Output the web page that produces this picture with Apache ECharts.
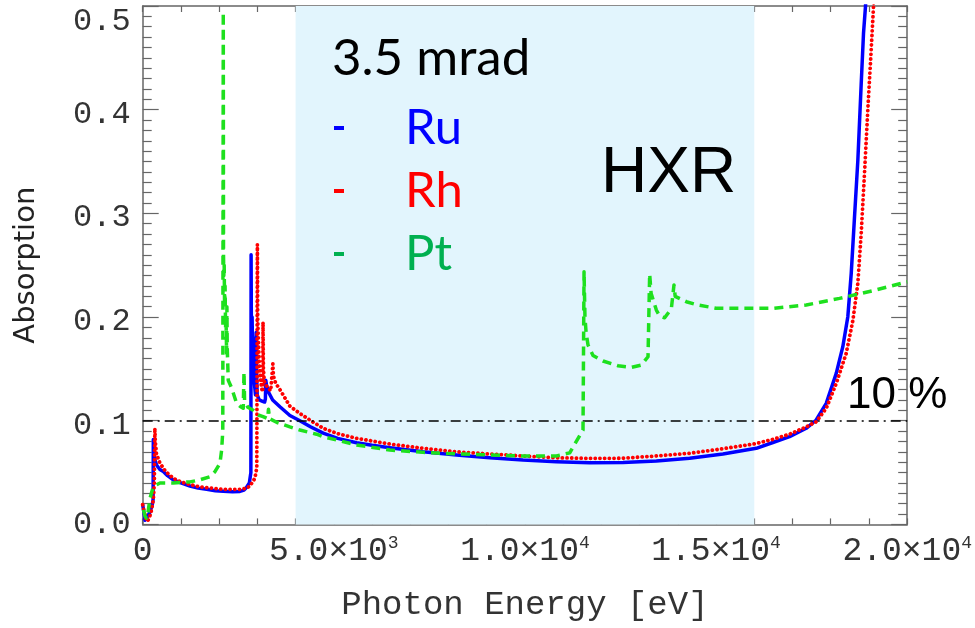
<!DOCTYPE html>
<html>
<head>
<meta charset="utf-8">
<script src="https://cdn.jsdelivr.net/npm/echarts@6/dist/echarts.min.js"></script>
<style>
html,body{margin:0;padding:0;background:#fff;}
#chart{width:975px;height:628px;}
</style>
</head>
<body>
<div id="chart"></div>
<script>
// ---- data: [photon energy (eV), absorption] ----
const ruData = [
 [0,0.019],[30,0.012],[60,0.004],[100,0.005],[150,0.009],[200,0.013],[250,0.019],[272,0.024],
 [278,0.082],[290,0.07],[320,0.062],[366,0.057],[450,0.053],[540,0.051],[650,0.047],[800,0.043],
 [1000,0.040],[1237,0.037],[1450,0.035],[1673,0.0338],[1900,0.0325],[2108,0.032],[2350,0.0315],
 [2544,0.0318],[2650,0.033],[2719,0.0358],[2790,0.04],[2830,0.05],[2836,0.26],[2842,0.2],[2852,0.19],
 [2862,0.2],[2875,0.165],[2890,0.18],[2905,0.15],[2925,0.135],[2950,0.125],[2962,0.125],[2968,0.185],
 [2976,0.15],[2995,0.125],[3050,0.12],[3120,0.119],[3190,0.118],[3210,0.121],[3220,0.139],[3240,0.134],
 [3300,0.127],[3400,0.12],[3590,0.1135],[3851,0.105],[4112,0.1],[4400,0.094],[4722,0.088],[5100,0.083],
 [5594,0.0788],[6000,0.0763],[6465,0.074],[7336,0.070],[8209,0.067],[9080,0.0643],[9950,0.062],
 [10823,0.0605],[11694,0.0595],[12565,0.0598],[13438,0.0612],[14309,0.0637],[15180,0.0679],
 [16052,0.0734],[16486,0.079],[16923,0.0846],[17359,0.0927],[17620,0.1007],[17882,0.1168],
 [18144,0.1457],[18316,0.1714],[18447,0.2003],[18536,0.242],[18622,0.2967],[18709,0.351],
 [18797,0.425],[18857,0.4735],[18910,0.5],[18960,0.54]
];
const rhData = [
 [0,0.019],[40,0.012],[80,0.006],[122,0.003],[170,0.006],[220,0.012],[277,0.0235],[305,0.04],
 [318,0.0927],[330,0.08],[360,0.068],[452,0.059],[600,0.051],[800,0.0445],[1000,0.041],[1237,0.0385],
 [1450,0.0365],[1673,0.0354],[2108,0.0338],[2544,0.0338],[2720,0.035],[2805,0.037],[2936,0.0445],
 [2985,0.055],[3000,0.27],[3008,0.2],[3020,0.185],[3035,0.17],[3050,0.155],[3080,0.14],[3120,0.13],
 [3140,0.128],[3148,0.195],[3158,0.15],[3180,0.138],[3250,0.133],[3350,0.129],[3395,0.13],
 [3405,0.155],[3420,0.143],[3480,0.136],[3590,0.13],[3851,0.114],[4112,0.107],[4400,0.1],
 [4722,0.0927],[5100,0.0875],[5594,0.083],[6465,0.0775],[7336,0.0734],[8209,0.070],[9080,0.0679],
 [9950,0.066],[10823,0.0643],[11694,0.0637],[12565,0.0638],[13438,0.066],[14309,0.0686],
 [15180,0.073],[16052,0.078],[16486,0.082],[16923,0.087],[17359,0.094],[17620,0.099],[17882,0.112],
 [18144,0.136],[18405,0.165],[18580,0.197],[18709,0.2325],[18797,0.2807],[18883,0.3386],
 [18970,0.40],[19058,0.4575],[19119,0.4996],[19170,0.54]
];
const ptData = [
 [20,0.014],[60,0.008],[100,0.006],[140,0.012],[190,0.025],[235,0.031],[277,0.036],[350,0.038],
 [452,0.040],[600,0.040],[800,0.040],[1000,0.0405],[1237,0.041],[1500,0.043],[1760,0.046],
 [1890,0.0508],[2021,0.059],[2065,0.0717],[2095,0.09],[2108,0.494],[2114,0.26],[2122,0.24],
 [2132,0.25],[2142,0.21],[2155,0.23],[2168,0.19],[2180,0.2],[2195,0.165],[2203,0.21],[2212,0.17],
 [2238,0.139],[2326,0.1317],[2457,0.1168],[2544,0.114],[2630,0.112],[2650,0.147],[2665,0.12],
 [2750,0.113],[2893,0.110],[3023,0.1055],[3150,0.104],[3270,0.102],[3290,0.111],[3320,0.102],
 [3503,0.0985],[3851,0.094],[4112,0.091],[4549,0.087],[4722,0.0846],[5594,0.0766],[6465,0.0717],
 [7336,0.0695],[8209,0.068],[9080,0.067],[9950,0.066],[10823,0.066],[11171,0.069],[11312,0.078],
 [11519,0.091],[11546,0.2437],[11570,0.2],[11600,0.185],[11650,0.173],[11781,0.163],[12042,0.1576],
 [12435,0.153],[12784,0.1515],[13046,0.1537],[13220,0.1617],[13263,0.2415],[13300,0.223],
 [13438,0.2067],[13525,0.201],[13655,0.1993],[13830,0.208],[13899,0.231],[13930,0.22],
 [14222,0.2148],[14526,0.2116],[15000,0.2085],[15616,0.2084],[16486,0.2084],[17359,0.2116],
 [18230,0.218],[19100,0.2254],[20000,0.234]
];
const seriesNames = ['Ru','Rh','Pt'];
const hxrRange = [4000, 16000];
const thresholdLevel = 0.1;
const xTicks = [0, 5000, 10000, 15000, 20000];
const xTickLabels = ['0', '5.0×10{s|3}', '1.0×10{s|4}', '1.5×10{s|4}', '2.0×10{s|4}'];
const yTickLabels = ['0.0','0.1','0.2','0.3','0.4','0.5'];

const mono = '"Liberation Mono", "DejaVu Sans Mono", monospace';
const axisColor = '#666';
const labelColor = '#333';

const chart = echarts.init(document.getElementById('chart'), null, {renderer:'canvas'});

function xAxisCfg(pos, showLabel) {
  return {
    type:'value', min:0, max:20000, interval:5000, position:pos,
    axisLine:{show:true, onZero:false, lineStyle:{color:axisColor, width:1.5}},
    axisTick:{show:true, inside:true, length:6, lineStyle:{color:axisColor, width:1.2}},
    minorTick:{show:true, splitNumber:5, length:6, lineStyle:{color:axisColor, width:1.2}},
    splitLine:{show:false},
    axisLabel: showLabel ? {
      show:true, margin:10, color:labelColor, fontFamily:mono, fontSize:33,
      formatter: v => { const i = xTicks.indexOf(v); return i >= 0 ? xTickLabels[i] : ''; },
      rich:{ s:{fontFamily:mono, fontSize:18, color:labelColor, verticalAlign:'top', padding:[0,0,8,0]} }
    } : {show:false},
    name: showLabel ? 'Photon Energy [eV]' : '',
    nameLocation:'middle', nameGap:64,
    nameTextStyle:{fontFamily:mono, fontSize:34, color:labelColor}
  };
}
function yAxisCfg(pos, showLabel) {
  return {
    type:'value', min:0, max:0.5, interval:0.1, position:pos,
    axisLine:{show:true, onZero:false, lineStyle:{color:axisColor, width:1.5}},
    axisTick:{show:true, inside:true, length:16, lineStyle:{color:axisColor, width:1.2}},
    minorTick:{show:true, splitNumber:10, length:9, lineStyle:{color:axisColor, width:1.2}},
    splitLine:{show:false},
    axisLabel: showLabel ? {
      show:true, margin:12, color:labelColor, fontFamily:mono, fontSize:32,
      formatter: v => {
        const i = Math.round(v*10); const s = yTickLabels[i];
        if (i === 5) return '{t|' + s + '}';
        if (i === 0) return '{z|' + s + '}';
        return '{n|' + s + '}';
      },
      rich:{
        t:{fontFamily:mono, fontSize:32, color:labelColor, padding:[32,0,0,0]},
        n:{fontFamily:mono, fontSize:32, color:labelColor, padding:[9,0,0,0]},
        z:{fontFamily:mono, fontSize:32, color:labelColor}
      }
    } : {show:false},
    name: showLabel ? 'Absorption' : '',
    nameLocation:'middle', nameGap:102, nameRotate:90,
    nameTextStyle:{fontFamily:'"DejaVu Sans", sans-serif', fontSize:29, color:'#222'}
  };
}

const option = {
  animation:false,
  backgroundColor:'#ffffff',
  grid:{left:142.7, right:67.3, top:6, bottom:103.6, containLabel:false},
  xAxis:[xAxisCfg('bottom', true), xAxisCfg('top', false)],
  yAxis:[yAxisCfg('left', true), yAxisCfg('right', false)],
  legend:{
    orient:'vertical', left:329, top:98, itemWidth:10, itemHeight:4, itemGap:13,
    icon:'rect', selectedMode:false, z:20,
    textStyle:{fontFamily:'Lato, "Open Sans", sans-serif', fontSize:49, padding:[0,0,0,56], lineHeight:50},
    data:[
      {name:'Ru', textStyle:{color:'#0000ff'}, itemStyle:{color:'#0000ff'}},
      {name:'Rh', textStyle:{color:'#ff0000'}, itemStyle:{color:'#ff0000'}},
      {name:'Pt', textStyle:{color:'#00b050'}, itemStyle:{color:'#00b050'}}
    ]
  },
  graphic:[
    {type:'text', z:100, left:332, top:33, style:{text:'3.5 mrad', font:'51px Lato, "Open Sans", sans-serif', fill:'#000'}},
    {type:'text', z:100, left:601, top:142, style:{text:'HXR', font:'64px "Liberation Sans", Arial, sans-serif', fill:'#000'}},
    {type:'text', z:100, left:847, top:374, style:{text:'10 %', font:'44px "Liberation Sans", Arial, sans-serif', fill:'#000'}}
  ],
  series:[
    {
      name:'HXR', type:'line', data:[], z:1, silent:true,
      markArea:{silent:true, itemStyle:{color:'#e2f5fd'}, data:[[{xAxis:hxrRange[0]},{xAxis:hxrRange[1]}]]},
      markLine:{silent:true, symbol:['none','none'], label:{show:false},
        lineStyle:{color:'#000', width:1.5, type:[10,5,2,5]},
        data:[{yAxis:thresholdLevel}]}
    },
    {name:seriesNames[0], type:'line', data:ruData, showSymbol:false, z:3, clip:true,
      lineStyle:{color:'#0000ff', width:3.5, join:'round'}, itemStyle:{color:'#0000ff'}},
    {name:seriesNames[1], type:'line', data:rhData, showSymbol:false, z:4, clip:true,
      lineStyle:{color:'#ff0000', width:3.8, type:[0.1,4.6], cap:'round', join:'round'}, itemStyle:{color:'#ff0000'}},
    {name:seriesNames[2], type:'line', data:ptData, showSymbol:false, z:5, clip:true,
      lineStyle:{color:'#1ee01e', width:3.5, type:[9,6], join:'round'}, itemStyle:{color:'#1ee01e'}}
  ]
};
chart.setOption(option);
</script>
</body>
</html>
